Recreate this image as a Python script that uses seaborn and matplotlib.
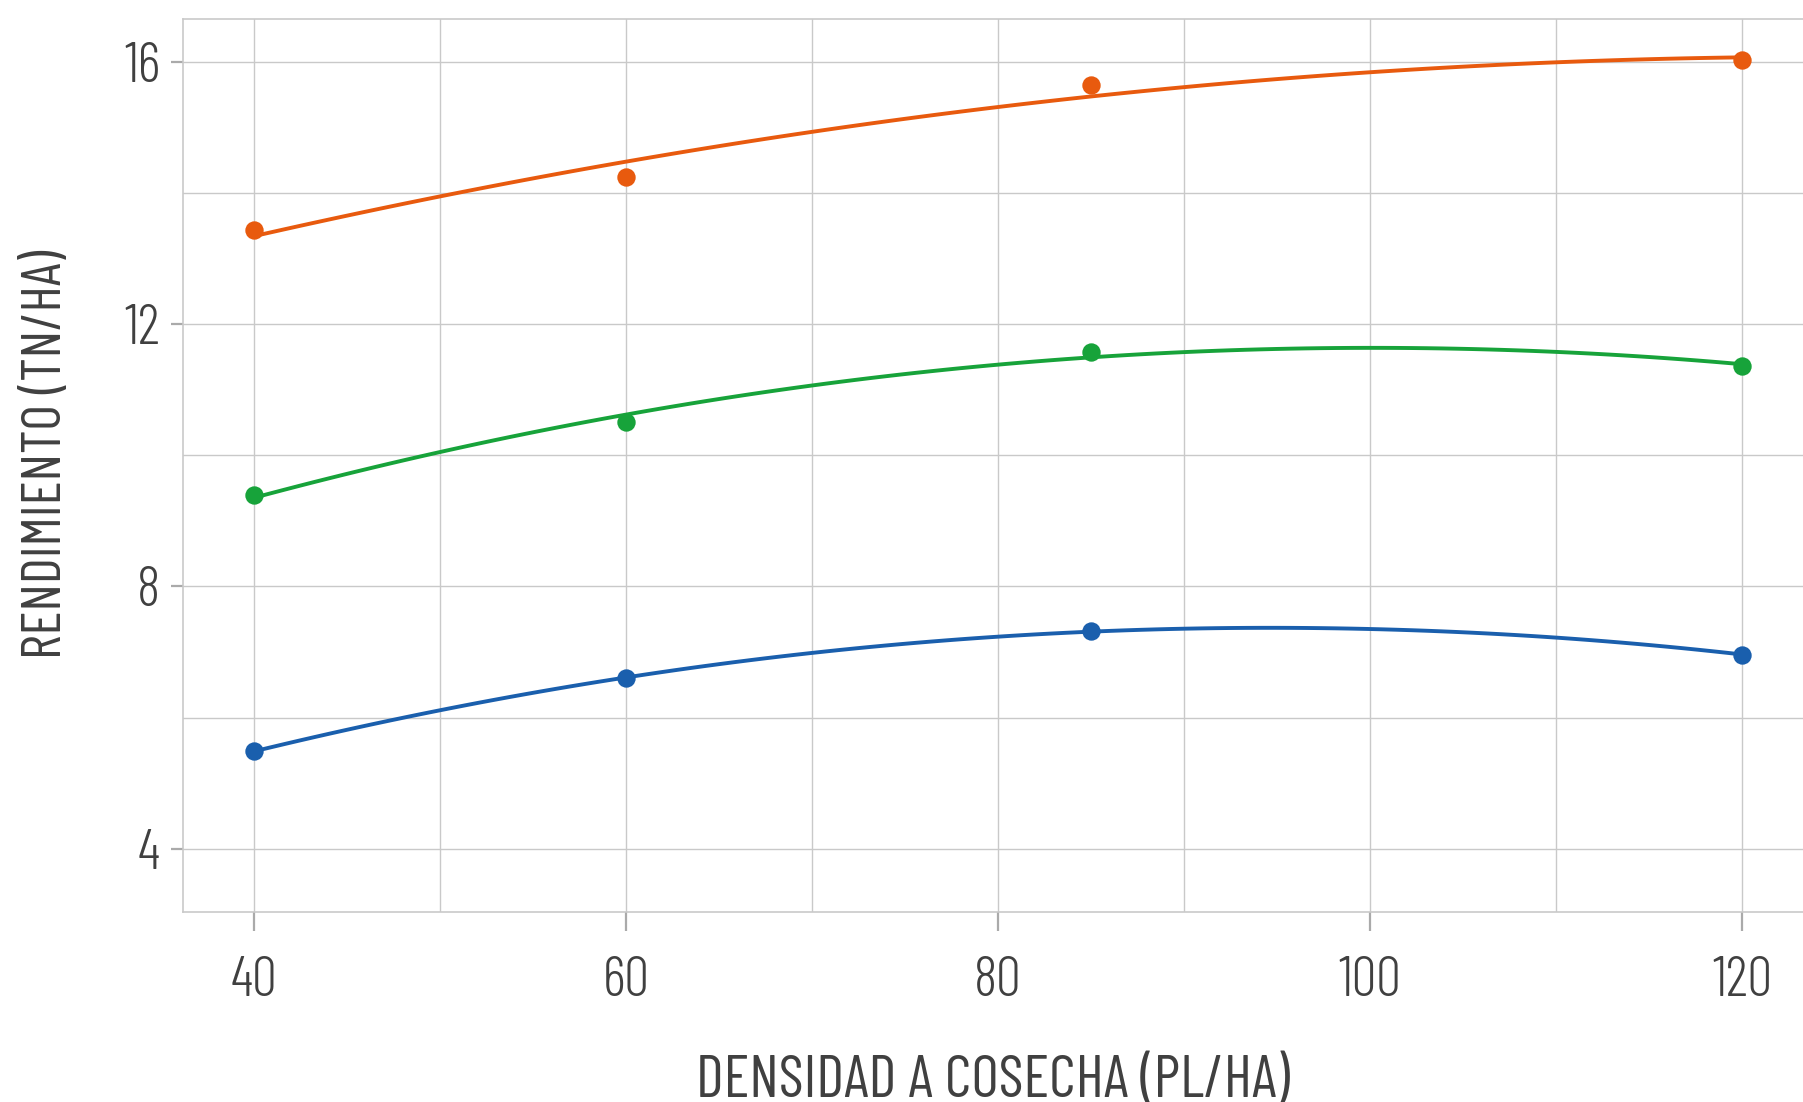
import matplotlib
matplotlib.use("Agg")
import matplotlib.pyplot as plt
import pandas as pd
import seaborn as sns
from matplotlib.ticker import MultipleLocator

# data
densidad = [40, 60, 85, 120]
rend_alto = [13.44, 14.25, 15.65, 16.03]
rend_medio = [9.40, 10.51, 11.58, 11.37]
rend_bajo = [5.49, 6.60, 7.32, 6.96]
series = ["alto", "medio", "bajo"]
colores = ["#e85a0e", "#17a33a", "#1a5fad"]

x_ticks = [40, 60, 80, 100, 120]
y_ticks = [4, 8, 12, 16]

sns.set_style("whitegrid")
plt.rcParams['font.family'] = ['Barlow Condensed', 'DejaVu Sans']
plt.rcParams['font.weight'] = 300

df = pd.DataFrame({
    "densidad": densidad * 3,
    "rendimiento": rend_alto + rend_medio + rend_bajo,
    "serie": [s for s in series for _ in densidad],
})

fig = plt.figure(figsize=(18.03, 11.02), dpi=100)
ax = fig.add_axes([0.1015, 0.1724, 0.8985, 0.8100])

# quadratic fit per series, drawn by seaborn
for name, color in zip(series, colores):
    sub = df[df["serie"] == name]
    sns.regplot(data=sub, x="densidad", y="rendimiento", order=2, ci=None,
                ax=ax, color=color, truncate=True,
                scatter_kws=dict(s=175, linewidths=0, alpha=1, zorder=4),
                line_kws=dict(lw=2.8, zorder=3))

ax.set_xlim(36.18, 123.27)
ax.set_ylim(3.034, 16.65)
ax.set_xticks(x_ticks)
ax.set_yticks(y_ticks)
ax.xaxis.set_minor_locator(MultipleLocator(10))
ax.yaxis.set_minor_locator(MultipleLocator(2))

grid_color = "#c9c9c9"
ax.grid(which="both", color=grid_color, lw=1.0)
ax.set_axisbelow(True)
for side in ["left", "bottom", "top"]:
    ax.spines[side].set_color(grid_color)
    ax.spines[side].set_linewidth(1.2)
ax.spines["right"].set_visible(False)

text_color = "#404040"
ax.tick_params(axis="x", which="major", length=13.5, width=1.6, color="#aaaaaa",
               labelsize=40, labelcolor=text_color, pad=18, bottom=True)
ax.tick_params(axis="y", which="major", length=8.5, width=1.6, color="#aaaaaa",
               labelsize=40, labelcolor=text_color, pad=8, left=True)
ax.tick_params(which="minor", length=0)

ax.set_xlabel("DENSIDAD A COSECHA (PL/HA)", fontsize=43, color=text_color, labelpad=35)
ax.set_ylabel("RENDIMIENTO (TN/HA)", fontsize=40, color=text_color)
ax.yaxis.set_label_coords(-0.0685, 0.513)

fig.savefig("out.png", dpi=100)
